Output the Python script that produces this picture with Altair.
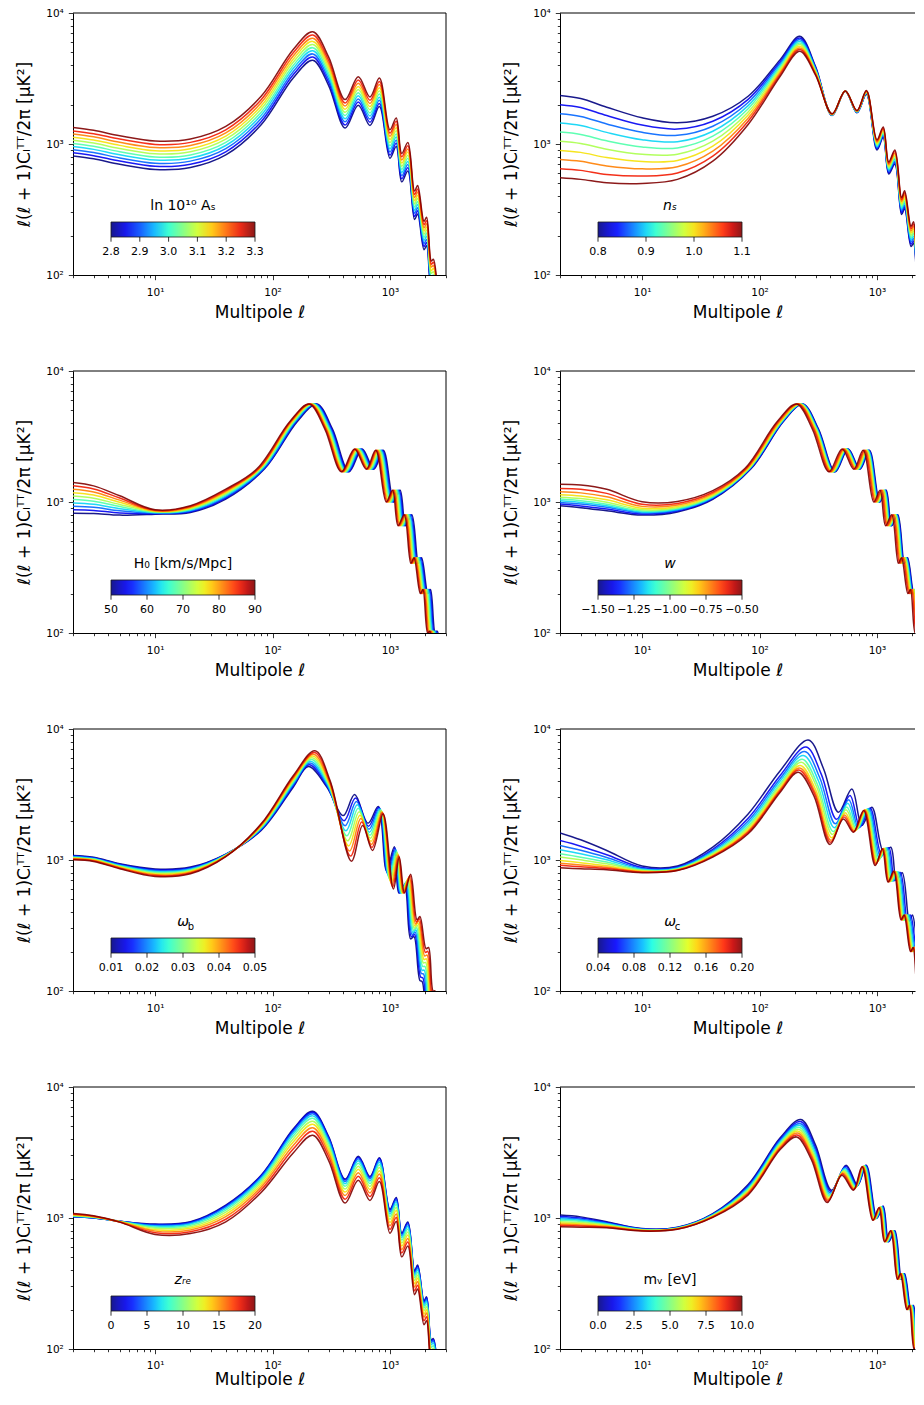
import altair as alt
import pandas as pd

FONT = "DejaVu Sans"

# ---------------- data ----------------
ANCHORS = [2, 3, 5, 10, 20, 40, 80, 150, 220, 300, 415, 537, 676, 813, 1000,
           1130, 1260, 1420, 1620, 1720, 1950, 2050, 2250, 2340, 2600]

AS_VALUES = [2.8, 2.856, 2.911, 2.967, 3.022, 3.078, 3.133, 3.189, 3.244, 3.3]
NS_VALUES = [0.8, 0.833, 0.867, 0.9, 0.933, 0.967, 1.0, 1.033, 1.067, 1.1]
H0_VALUES = [50.0, 54.4, 58.9, 63.3, 67.8, 72.2, 76.7, 81.1, 85.6, 90.0]
W_VALUES = [-1.5, -1.389, -1.278, -1.167, -1.056, -0.944, -0.833, -0.722, -0.611, -0.5]
OB_VALUES = [0.01, 0.0144, 0.0189, 0.0233, 0.0278, 0.0322, 0.0367, 0.0411, 0.0456, 0.05]
OC_VALUES = [0.04, 0.0578, 0.0756, 0.0933, 0.1111, 0.1289, 0.1467, 0.1644, 0.1822, 0.2]
ZRE_VALUES = [0.0, 2.22, 4.44, 6.67, 8.89, 11.11, 13.33, 15.56, 17.78, 20.0]
MNU_VALUES = [0.0, 1.11, 2.22, 3.33, 4.44, 5.56, 6.67, 7.78, 8.89, 10.0]

# panel 1: one row per curve (blue -> red), one value per anchor
AS_D_BY_CURVE = [
    [810, 771, 701, 639, 662, 826, 1402, 3194, 4362, 2804, 1324, 1979, 1387, 1932, 779, 958, 514, 623, 265, 292, 156, 167, 78, 80, 31],
    [856, 815, 741, 675, 700, 872, 1481, 3374, 4609, 2963, 1399, 2090, 1465, 2041, 823, 1012, 543, 658, 280, 309, 165, 177, 82, 85, 33],
    [905, 861, 783, 713, 740, 922, 1566, 3567, 4872, 3132, 1479, 2210, 1549, 2158, 870, 1070, 574, 696, 296, 326, 174, 187, 87, 90, 35],
    [956, 910, 827, 754, 781, 974, 1654, 3768, 5146, 3308, 1562, 2334, 1636, 2279, 919, 1130, 607, 735, 312, 345, 184, 198, 92, 95, 37],
    [1010, 961, 874, 796, 825, 1029, 1748, 3981, 5438, 3496, 1651, 2466, 1728, 2408, 971, 1194, 641, 777, 330, 364, 194, 209, 97, 100, 39],
    [1067, 1016, 923, 841, 872, 1088, 1847, 4207, 5746, 3694, 1744, 2606, 1826, 2544, 1026, 1262, 677, 821, 349, 385, 205, 221, 103, 106, 41],
    [1127, 1073, 976, 889, 921, 1149, 1951, 4444, 6070, 3902, 1843, 2753, 1930, 2688, 1084, 1333, 715, 867, 369, 407, 217, 233, 108, 112, 43],
    [1192, 1135, 1031, 940, 974, 1215, 2063, 4699, 6418, 4126, 1948, 2911, 2040, 2842, 1146, 1410, 756, 917, 390, 430, 229, 246, 115, 118, 46],
    [1259, 1199, 1090, 993, 1029, 1284, 2180, 4965, 6782, 4360, 2059, 3076, 2156, 3003, 1211, 1490, 799, 969, 412, 454, 242, 260, 121, 125, 48],
    [1335, 1271, 1156, 1053, 1091, 1361, 2311, 5264, 7190, 4622, 2183, 3261, 2286, 3184, 1284, 1579, 847, 1027, 437, 482, 257, 276, 128, 132, 51],
]

# other panels: one row per anchor; a single number is shared by all curves
NS_D = [
    [2344, 1996, 1700, 1448, 1233, 1050, 894, 761, 648, 552],
    [2223, 1899, 1622, 1385, 1183, 1010, 863, 737, 629, 537],
    [1910, 1648, 1422, 1227, 1058, 913, 788, 680, 586, 506],
    [1585, 1394, 1227, 1079, 949, 835, 735, 646, 569, 500],
    [1452, 1300, 1164, 1042, 933, 836, 748, 670, 600, 537],
    [1629, 1492, 1367, 1252, 1147, 1051, 962, 882, 807, 740],
    [2316, 2192, 2074, 1963, 1858, 1758, 1664, 1575, 1490, 1410],
    [4406, 4265, 4128, 3996, 3868, 3745, 3625, 3509, 3397, 3289],
    [6640, 6449, 6263, 6083, 5907, 5737, 5572, 5411, 5255, 5106],
    [3900, 3835, 3771, 3708, 3646, 3585, 3525, 3466, 3408, 3350],
    [1650, 1655, 1661, 1666, 1672, 1677, 1683, 1689, 1694, 1700],
    2540,
    [1730, 1738, 1745, 1753, 1761, 1768, 1776, 1784, 1792, 1800],
    [2400, 2417, 2435, 2452, 2470, 2487, 2505, 2523, 2541, 2560],
    [900, 918, 937, 956, 976, 996, 1016, 1037, 1058, 1080],
    [1120, 1143, 1167, 1191, 1216, 1241, 1267, 1294, 1321, 1350],
    [590, 604, 619, 633, 649, 664, 680, 696, 713, 730],
    [700, 720, 740, 761, 783, 805, 828, 851, 875, 900],
    [290, 300, 310, 320, 331, 342, 353, 365, 377, 390],
    [320, 332, 343, 356, 368, 382, 395, 410, 424, 440],
    [165, 172, 179, 186, 193, 201, 209, 217, 226, 235],
    [175, 182, 190, 198, 207, 216, 225, 235, 245, 255],
    [80, 84, 88, 92, 96, 100, 105, 110, 115, 120],
    [82, 86, 90, 94, 99, 104, 109, 114, 119, 125],
    [30, 32, 34, 35, 37, 40, 42, 44, 47, 50],
]

H0_ELL = [2, 3, 5, 10, 20, 40,
          [86, 85, 84, 82, 81, 79, 78, 77, 76, 74],
          [162, 159, 157, 154, 152, 149, 147, 144, 142, 140],
          [238, 234, 230, 226, 222, 218, 215, 211, 208, 205],
          [324, 319, 313, 308, 303, 298, 293, 288, 284, 279],
          [448, 441, 433, 426, 419, 412, 405, 399, 392, 386],
          [580, 570, 561, 552, 542, 533, 525, 516, 507, 499],
          [730, 718, 706, 694, 683, 671, 660, 650, 639, 629],
          [878, 863, 849, 835, 821, 807, 794, 781, 768, 756],
          [1080, 1062, 1044, 1027, 1010, 993, 977, 961, 945, 930],
          [1220, 1200, 1180, 1161, 1141, 1122, 1104, 1086, 1068, 1051],
          [1361, 1338, 1315, 1294, 1273, 1251, 1231, 1211, 1191, 1172],
          [1534, 1508, 1482, 1458, 1434, 1410, 1387, 1365, 1342, 1321],
          [1750, 1720, 1691, 1664, 1636, 1609, 1583, 1557, 1531, 1507],
          [1858, 1827, 1796, 1766, 1737, 1708, 1680, 1653, 1625, 1600],
          [2106, 2071, 2036, 2003, 1970, 1936, 1905, 1874, 1843, 1814],
          [2214, 2177, 2140, 2105, 2071, 2036, 2003, 1970, 1937, 1907],
          [2430, 2390, 2349, 2311, 2273, 2234, 2198, 2162, 2126, 2093],
          [2527, 2485, 2443, 2403, 2363, 2324, 2286, 2249, 2211, 2176],
          [2808, 2761, 2714, 2670, 2626, 2582, 2540, 2498, 2457, 2418]]
H0_D = [[822, 873, 927, 984, 1045, 1109, 1178, 1250, 1328, 1410],
        [818, 863, 911, 961, 1014, 1070, 1129, 1192, 1258, 1328],
        [794, 825, 856, 889, 923, 958, 995, 1033, 1073, 1115],
        [808, 815, 822, 829, 836, 843, 850, 857, 864, 871],
        [832, 843, 854, 866, 877, 889, 901, 913, 925, 937],
        [1052, 1073, 1094, 1115, 1137, 1159, 1182, 1205, 1229, 1253],
        1800, 4100, 5600, 3600, 1700, 2540, 1780, 2480, 1000, 1230,
        660, 800, 340, 375, 200, 215, 100, 103, 40]

W_ELL = [2, 3, 5, 10, 20, 40,
         [85, 84, 83, 82, 82, 81, 80, 78, 77, 75],
         [159, 158, 156, 155, 153, 152, 150, 147, 144, 141],
         [233, 231, 229, 227, 225, 222, 219, 216, 212, 207],
         [318, 315, 312, 309, 306, 303, 299, 294, 289, 282],
         [440, 436, 432, 428, 424, 419, 414, 407, 399, 390],
         [569, 564, 558, 554, 548, 542, 535, 526, 517, 505],
         [717, 710, 703, 697, 690, 683, 674, 662, 650, 635],
         [862, 854, 846, 838, 830, 821, 811, 797, 782, 764],
         [1060, 1050, 1040, 1031, 1021, 1010, 997, 980, 962, 940],
         [1198, 1187, 1175, 1165, 1154, 1141, 1127, 1107, 1087, 1062],
         [1336, 1323, 1310, 1299, 1286, 1273, 1256, 1235, 1212, 1184],
         [1505, 1491, 1477, 1464, 1450, 1434, 1416, 1392, 1366, 1335],
         [1717, 1701, 1685, 1670, 1654, 1636, 1615, 1588, 1558, 1523],
         [1823, 1806, 1789, 1773, 1756, 1737, 1715, 1686, 1655, 1617],
         [2067, 2048, 2028, 2010, 1991, 1970, 1944, 1911, 1876, 1833],
         [2173, 2153, 2132, 2114, 2093, 2071, 2044, 2009, 1972, 1927],
         [2385, 2363, 2340, 2320, 2297, 2273, 2243, 2205, 2165, 2115],
         [2480, 2457, 2434, 2413, 2389, 2363, 2333, 2293, 2251, 2200],
         [2756, 2730, 2704, 2681, 2655, 2626, 2592, 2548, 2501, 2444]]
W_D = [[936, 964, 993, 1021, 1052, 1089, 1135, 1197, 1268, 1368],
       [905, 934, 965, 992, 1024, 1062, 1110, 1174, 1251, 1350],
       [857, 883, 911, 935, 963, 997, 1039, 1095, 1164, 1250],
       [795, 810, 825, 839, 855, 873, 896, 926, 961, 1005],
       [840, 853, 865, 876, 890, 904, 923, 947, 975, 1010],
       [1050, 1063, 1075, 1087, 1100, 1115, 1134, 1158, 1186, 1220],
       1800, 4100, 5600, 3600, 1700, 2540, 1780, 2480, 1000, 1230,
       660, 800, 340, 375, 200, 215, 100, 103, 40]

OB_ELL = [2, 3, 5, 10, 20, 40, 80, 150,
          [202, 205, 208, 211, 214, 217, 220, 223, 227, 230],
          [290, 292, 294, 296, 299, 301, 303, 305, 308, 310],
          [400, 407, 415, 422, 430, 437, 445, 453, 462, 470],
          [500, 509, 518, 527, 536, 546, 555, 565, 575, 585],
          [650, 656, 663, 669, 676, 682, 689, 696, 703, 710],
          [795, 804, 812, 821, 830, 839, 848, 857, 866, 875],
          [935, 949, 963, 978, 992, 1007, 1023, 1038, 1054, 1070],
          [1090, 1102, 1114, 1126, 1138, 1150, 1163, 1175, 1188, 1200],
          [1190, 1205, 1220, 1235, 1250, 1265, 1281, 1297, 1313, 1330],
          [1330, 1348, 1366, 1384, 1402, 1421, 1440, 1460, 1480, 1500],
          [1500, 1521, 1542, 1564, 1586, 1608, 1630, 1653, 1676, 1700],
          [1600, 1621, 1642, 1664, 1686, 1708, 1730, 1753, 1776, 1800],
          [1800, 1824, 1849, 1874, 1899, 1924, 1950, 1976, 2003, 2030],
          [1880, 1906, 1933, 1960, 1987, 2014, 2042, 2071, 2100, 2130],
          [2050, 2079, 2109, 2139, 2170, 2201, 2232, 2264, 2297, 2330],
          [2150, 2178, 2207, 2236, 2266, 2296, 2326, 2357, 2388, 2420],
          [2400, 2426, 2453, 2480, 2507, 2534, 2562, 2591, 2620, 2650]]
OB_D = [[1083, 1074, 1065, 1056, 1047, 1038, 1029, 1020, 1012, 1003],
        [1050, 1041, 1033, 1024, 1016, 1008, 999, 991, 983, 975],
        [936, 927, 918, 909, 900, 891, 883, 874, 866, 857],
        [855, 843, 830, 818, 806, 794, 783, 771, 760, 749],
        [883, 872, 860, 849, 838, 827, 816, 806, 795, 785],
        [1110, 1104, 1099, 1093, 1088, 1082, 1077, 1071, 1066, 1060],
        [1680, 1702, 1724, 1746, 1769, 1792, 1815, 1839, 1863, 1888],
        [3593, 3675, 3758, 3844, 3931, 4021, 4112, 4206, 4302, 4400],
        [5165, 5328, 5496, 5670, 5849, 6034, 6224, 6421, 6624, 6834],
        [3600, 3642, 3685, 3729, 3773, 3817, 3862, 3907, 3953, 4000],
        [2183, 1997, 1827, 1672, 1530, 1400, 1281, 1172, 1071, 980],
        [3160, 2975, 2800, 2636, 2481, 2336, 2199, 2070, 1948, 1833],
        [1910, 1811, 1717, 1628, 1544, 1464, 1388, 1316, 1248, 1184],
        [2559, 2523, 2487, 2452, 2417, 2383, 2349, 2316, 2282, 2249],
        [830, 801, 773, 745, 719, 694, 669, 645, 622, 600],
        [1260, 1235, 1210, 1186, 1162, 1139, 1116, 1094, 1072, 1050],
        560,
        [640, 654, 669, 683, 698, 714, 730, 746, 763, 780],
        [250, 260, 270, 280, 290, 301, 313, 325, 337, 350],
        [260, 270, 281, 292, 304, 316, 329, 342, 356, 370],
        [120, 128, 136, 144, 154, 164, 174, 185, 197, 210],
        [118, 126, 135, 144, 154, 165, 176, 188, 201, 215],
        [50, 54, 58, 63, 68, 74, 80, 86, 93, 100],
        [45, 49, 54, 59, 64, 70, 77, 84, 92, 100],
        [15, 17, 19, 21, 23, 26, 29, 32, 36, 40]]

OC_ELL = [2, 3, 5, 10, 20, 40, 80, 150,
          [260, 249, 242, 236, 231, 227, 222, 219, 216, 213],
          [350, 336, 327, 319, 312, 307, 301, 297, 294, 290],
          [470, 453, 442, 433, 425, 418, 412, 406, 402, 398],
          [611, 589, 575, 564, 553, 545, 536, 529, 523, 518],
          [743, 716, 699, 686, 672, 663, 652, 643, 636, 630],
          [905, 874, 854, 838, 822, 810, 798, 788, 780, 770],
          [1139, 1098, 1073, 1051, 1030, 1015, 998, 985, 975, 965],
          [1310, 1263, 1234, 1210, 1186, 1168, 1149, 1134, 1123, 1110],
          [1463, 1411, 1379, 1351, 1325, 1305, 1284, 1267, 1255, 1240],
          [1640, 1582, 1545, 1515, 1485, 1463, 1439, 1420, 1406, 1390],
          [1888, 1820, 1779, 1744, 1709, 1684, 1657, 1635, 1619, 1600],
          [2006, 1934, 1890, 1853, 1816, 1789, 1760, 1737, 1720, 1700],
          [2277, 2196, 2146, 2104, 2062, 2032, 1998, 1972, 1953, 1930],
          [2395, 2310, 2257, 2212, 2169, 2137, 2102, 2074, 2054, 2030],
          [2631, 2537, 2479, 2430, 2383, 2347, 2309, 2278, 2256, 2230],
          [2738, 2640, 2579, 2529, 2479, 2442, 2402, 2370, 2347, 2320],
          [3068, 2958, 2890, 2834, 2778, 2737, 2692, 2656, 2630, 2600]]
OC_D = [[1611, 1407, 1291, 1200, 1115, 1055, 992, 945, 910, 872],
        [1426, 1275, 1187, 1117, 1051, 1003, 954, 915, 888, 857],
        [1183, 1098, 1046, 1004, 964, 935, 903, 879, 861, 841],
        [900, 877, 863, 851, 839, 830, 820, 813, 807, 800],
        [900, 884, 874, 866, 857, 851, 844, 839, 834, 830],
        [1254, 1207, 1177, 1153, 1128, 1111, 1091, 1076, 1065, 1052],
        [2248, 2082, 1982, 1901, 1823, 1767, 1706, 1659, 1625, 1585],
        [4809, 4423, 4195, 4007, 3828, 3699, 3561, 3454, 3377, 3289],
        [8243, 7277, 6722, 6281, 5866, 5574, 5267, 5032, 4864, 4675],
        [5000, 4502, 4209, 3976, 3753, 3596, 3429, 3300, 3206, 3100],
        [2316, 2045, 1888, 1764, 1648, 1566, 1479, 1412, 1365, 1313],
        [3490, 3108, 2886, 2706, 2541, 2423, 2298, 2203, 2134, 2060],
        [1833, 1786, 1757, 1732, 1708, 1690, 1670, 1654, 1643, 1630],
        [2530, 2497, 2477, 2460, 2443, 2430, 2416, 2405, 2397, 2388],
        [1150, 1092, 1057, 1027, 998, 977, 958, 940, 927, 908],
        [1250, 1242, 1237, 1233, 1230, 1227, 1224, 1222, 1219, 1216],
        [700, 696, 693, 690, 688, 686, 684, 683, 681, 680],
        [800, 804, 807, 809, 812, 814, 816, 817, 819, 820],
        [340, 342, 344, 345, 346, 347, 348, 349, 349, 350],
        380, 200,
        [220, 219, 219, 218, 217, 217, 216, 216, 215, 215],
        100, 103, 40]

ZRE_D = [[1021, 1023, 1027, 1033, 1039, 1046, 1054, 1063, 1072, 1083],
         [1000, 1001, 1004, 1008, 1012, 1016, 1021, 1027, 1033, 1040],
         [945, 945, 944, 942, 941, 939, 937, 935, 932, 930],
         [898, 892, 881, 867, 851, 834, 814, 794, 772, 749],
         [936, 929, 916, 899, 879, 857, 834, 810, 785, 760],
         [1254, 1240, 1216, 1185, 1150, 1110, 1067, 1024, 978, 935],
         [2123, 2099, 2056, 2002, 1937, 1869, 1797, 1721, 1643, 1567],
         [4777, 4703, 4572, 4408, 4219, 4014, 3801, 3579, 3358, 3137],
         [6524, 6423, 6244, 6020, 5762, 5482, 5191, 4889, 4586, 4284],
         [4194, 4129, 4014, 3870, 3704, 3524, 3337, 3143, 2948, 2754],
         [1981, 1950, 1896, 1828, 1749, 1664, 1576, 1484, 1392, 1301],
         [2959, 2913, 2832, 2731, 2614, 2487, 2355, 2217, 2080, 1943],
         [2074, 2042, 1985, 1914, 1832, 1743, 1650, 1554, 1458, 1362],
         [2889, 2845, 2765, 2666, 2552, 2428, 2299, 2165, 2031, 1897],
         [1165, 1147, 1115, 1075, 1029, 979, 927, 873, 819, 765],
         [1433, 1411, 1371, 1322, 1266, 1204, 1140, 1074, 1007, 941],
         [769, 757, 736, 710, 679, 646, 612, 576, 541, 505],
         [932, 918, 892, 860, 823, 783, 742, 698, 655, 612],
         [396, 390, 379, 366, 350, 333, 315, 297, 278, 260],
         [437, 430, 418, 403, 386, 367, 348, 327, 307, 287],
         [233, 229, 223, 215, 206, 196, 185, 175, 164, 153],
         [250, 247, 240, 231, 221, 210, 199, 188, 176, 164],
         [117, 115, 112, 108, 103, 98, 93, 87, 82, 77],
         [120, 118, 115, 111, 106, 101, 95, 90, 84, 79],
         [47, 46, 45, 43, 41, 39, 37, 35, 33, 31]]

MNU_ELL = [2, 3, 5, 10, 20, 40, 80, 150,
           [225, 223, 221, 219, 217, 215, 213, 211, 209, 207],
           [300, 297, 295, 292, 289, 286, 284, 281, 279, 276],
           [410, 406, 402, 399, 395, 391, 388, 384, 381, 377],
           [546, 541, 536, 531, 526, 521, 516, 512, 507, 502],
           [685, 679, 672, 666, 660, 654, 648, 642, 636, 630],
           [811, 804, 796, 789, 781, 774, 767, 760, 753, 746],
           [1000, 991, 982, 973, 964, 955, 946, 937, 929, 920],
           [1130, 1120, 1109, 1099, 1089, 1079, 1069, 1059, 1049, 1040],
           [1260, 1248, 1237, 1225, 1214, 1203, 1192, 1181, 1170, 1159],
           [1420, 1407, 1394, 1381, 1368, 1356, 1343, 1331, 1319, 1306],
           [1620, 1605, 1590, 1576, 1561, 1547, 1532, 1518, 1504, 1490],
           [1720, 1704, 1689, 1673, 1657, 1642, 1627, 1612, 1597, 1582],
           [1950, 1932, 1914, 1897, 1879, 1862, 1845, 1828, 1811, 1794],
           [2050, 2031, 2012, 1994, 1975, 1957, 1939, 1921, 1904, 1886],
           [2250, 2229, 2209, 2188, 2168, 2148, 2128, 2109, 2089, 2070],
           [2340, 2318, 2297, 2276, 2255, 2234, 2213, 2193, 2173, 2153],
           [2600, 2576, 2552, 2529, 2505, 2482, 2459, 2437, 2414, 2392]]
MNU_D = [[1052, 1028, 1005, 982, 960, 938, 917, 896, 877, 857],
         [1020, 1000, 980, 960, 941, 922, 904, 886, 867, 850],
         [936, 925, 914, 903, 893, 882, 872, 861, 851, 841],
         [830, 826, 822, 818, 814, 811, 807, 803, 799, 795],
         [850, 847, 843, 840, 836, 833, 830, 826, 823, 820],
         [1080, 1072, 1064, 1056, 1048, 1041, 1033, 1025, 1018, 1010],
         [1800, 1764, 1729, 1694, 1661, 1627, 1595, 1563, 1532, 1500],
         [4100, 4006, 3915, 3826, 3739, 3653, 3570, 3488, 3408, 3330],
         [5640, 5452, 5271, 5095, 4926, 4761, 4603, 4450, 4301, 4158],
         [3600, 3501, 3404, 3310, 3219, 3130, 3044, 2960, 2878, 2800],
         [1631, 1592, 1554, 1517, 1481, 1446, 1411, 1378, 1345, 1313],
         [2530, 2481, 2433, 2386, 2340, 2295, 2251, 2207, 2164, 2122],
         [1780, 1763, 1746, 1729, 1712, 1696, 1680, 1663, 1647, 1631],
         [2530, 2522, 2515, 2507, 2500, 2492, 2484, 2477, 2470, 2462],
         [1000, 995, 991, 986, 982, 978, 973, 969, 964, 960],
         [1230, 1227, 1223, 1220, 1217, 1213, 1210, 1207, 1203, 1200],
         660, 800, 340, 375, 200, 215, 100, 103, 40]

# colorbar tick values
AS_TICKS = [2.8, 2.9, 3.0, 3.1, 3.2, 3.3]
NS_TICKS = [0.8, 0.9, 1.0, 1.1]
H0_TICKS = [50, 60, 70, 80, 90]
W_TICKS = [-1.5, -1.25, -1.0, -0.75, -0.5]
OB_TICKS = [0.01, 0.02, 0.03, 0.04, 0.05]
OC_TICKS = [0.04, 0.08, 0.12, 0.16, 0.20]
ZRE_TICKS = [0, 5, 10, 15, 20]
MNU_TICKS = [0.0, 2.5, 5.0, 7.5, 10.0]

X_TICKS = [2, 3, 4, 5, 6, 7, 8, 9, 10, 20, 30, 40, 50, 60, 70, 80, 90,
           100, 200, 300, 400, 500, 600, 700, 800, 900, 1000, 2000, 3000]
Y_TICKS = [100, 200, 300, 400, 500, 600, 700, 800, 900,
           1000, 2000, 3000, 4000, 5000, 6000, 7000, 8000, 9000, 10000]

# matplotlib "jet" colour stops
JET = ["#000080", "#0000C8", "#0000FF", "#0040FF", "#0080FF", "#00BFFF",
       "#15FFE2", "#48FFAF", "#7BFF7B", "#AFFF48", "#E2FF15", "#FFD200",
       "#FF9700", "#FF5C00", "#FF2100", "#C80000", "#800000"]

# ---------------- layout constants ----------------
W, H = 373, 262
X_MAX = 3000
# the right-hand column runs past the picture's edge in the reference:
# it is cut where the page ends (same pixels per decade as the left column)
W_RIGHT, X_MAX_RIGHT = 355, 2108
LEG_X, LEG_Y = 38, 186
GRAD_LEN, GRAD_T = 144, 15
TITLE_PAD = 9
CB_BOTTOM = LEG_Y + 14 + TITLE_PAD + GRAD_T


def build(values, ell_rows, d_rows):
    recs = []
    for i, v in enumerate(values):
        for e, d in zip(ell_rows, d_rows):
            recs.append({
                "curve": i,
                "p": v,
                "ell": e[i] if isinstance(e, list) else e,
                "D": d[i] if isinstance(d, list) else d,
            })
    return pd.DataFrame(recs)


MAJX = "datum.value == 10 || datum.value == 100 || datum.value == 1000"
MAJY = "datum.value == 100 || datum.value == 1000 || datum.value == 10000"


def x_axis(xmax, last_row):
    return alt.Axis(
        values=[v for v in X_TICKS if v <= xmax],
        labelExpr="datum.value == 10 ? '10¹' : datum.value == 100 ? '10²' : datum.value == 1000 ? '10³' : ''",
        tickSize={"condition": {"test": MAJX, "value": 4.7}, "value": 2.7},
        tickColor="black", tickWidth=0.8, domainColor="black", domainWidth=1,
        labelFont=FONT, labelFontSize=10.5, labelColor="black",
        labelPadding=7 if last_row else 8,
        labelOverlap=False, labelFlush=False, grid=False,
        title="Multipole ℓ", titleFont=FONT, titleFontSize=17, titleFontWeight="normal",
        titleColor="black", titlePadding=0 if last_row else 6.5,
    )


Y_AXIS = alt.Axis(
    values=Y_TICKS,
    labelExpr="datum.value == 100 ? '10²' : datum.value == 1000 ? '10³' : datum.value == 10000 ? '10⁴' : ''",
    tickSize={"condition": {"test": MAJY, "value": 4.7}, "value": 2.7},
    tickColor="black", tickWidth=0.8, domainColor="black", domainWidth=1,
    labelFont=FONT, labelFontSize=10.5, labelColor="black", labelPadding=5,
    labelOverlap=False, labelFlush=False, grid=False,
    title="ℓ(ℓ + 1)Cₗᵀᵀ/2π [μK²]", titleFont=FONT, titleFontSize=17,
    titleFontWeight="normal", titleColor="black", titlePadding=12,
)

YS = alt.Scale(type="log", domain=[100, 10000], nice=False)


def fmt_tick(v, fmt):
    return format(v, fmt).replace("-", "\u2212")


ONE = pd.DataFrame({"o": [0]})


def panel(df, vmin, vmax, ticks, title, fmt, italic=False, sub=None, right=False,
          last_row=False):
    width = W_RIGHT if right else W
    xmax = X_MAX_RIGHT if right else X_MAX
    dom = [vmin + (vmax - vmin) * k / 16 for k in range(17)]
    legend = alt.Legend(
        orient="none", legendX=LEG_X, legendY=LEG_Y, direction="horizontal",
        gradientLength=GRAD_LEN, gradientThickness=GRAD_T,
        gradientStrokeColor="black", gradientStrokeWidth=0.8,
        title=title, titleFont=FONT, titleFontSize=14, titleFontWeight="normal",
        titleFontStyle="italic" if italic else "normal",
        titleColor="black", titleAnchor="middle", titlePadding=TITLE_PAD,
        labelExpr="''", labelFontSize=1, labelOffset=0,
        values=[vmin, vmax], padding=0,
    )
    lines = alt.Chart(df).mark_line(
        clip=True, strokeWidth=1.5, opacity=0.9, interpolate="catmull-rom"
    ).encode(
        x=alt.X("ell:Q", scale=alt.Scale(type="log", domain=[2, xmax], nice=False),
                axis=x_axis(xmax, last_row)),
        y=alt.Y("D:Q", scale=YS, axis=Y_AXIS),
        color=alt.Color("p:Q", scale=alt.Scale(domain=dom, range=JET, interpolate="rgb"),
                        legend=legend),
        detail="curve:N",
    )
    tdf = pd.DataFrame({"t": ticks, "lab": [fmt_tick(t, fmt) for t in ticks]})
    cb_x = alt.X("t:Q", scale=alt.Scale(domain=[vmin, vmax], range=[LEG_X, LEG_X + GRAD_LEN]),
                 axis=None)
    cb_ticks = alt.Chart(tdf).mark_rule(color="black", strokeWidth=0.8).encode(
        x=cb_x, y=alt.value(CB_BOTTOM), y2=alt.value(CB_BOTTOM + 4.7),
    )
    cb_labels = alt.Chart(tdf).mark_text(
        align="center", baseline="top", fontSize=11, font=FONT, color="black"
    ).encode(x=cb_x, y=alt.value(CB_BOTTOM + 8.5), text="lab:N")
    top_spine = alt.Chart(ONE).mark_rule(color="black", strokeWidth=1).encode(
        x=alt.value(0), x2=alt.value(width), y=alt.value(0))
    layers = [lines, cb_ticks, cb_labels, top_spine]
    if not right:
        layers.append(alt.Chart(ONE).mark_rule(color="black", strokeWidth=1).encode(
            x=alt.value(width), y=alt.value(0), y2=alt.value(H)))
    if sub:
        txt = alt.Chart(pd.DataFrame({"s": [sub]})).mark_text(
            align="left", baseline="alphabetic", fontSize=10, font=FONT, color="black"
        ).encode(x=alt.value(LEG_X + GRAD_LEN / 2 + 4.8), y=alt.value(LEG_Y + 14.5),
                 text="s:N")
        layers.append(txt)
    return alt.layer(*layers).resolve_scale(x="independent").properties(width=width, height=H)


p1 = panel(build(AS_VALUES, ANCHORS, [list(c) for c in zip(*AS_D_BY_CURVE)]),
           2.8, 3.3, AS_TICKS, "ln 10¹⁰ Aₛ", ".1f")
p2 = panel(build(NS_VALUES, ANCHORS, NS_D), 0.8, 1.1, NS_TICKS, "nₛ", ".1f",
           italic=True, right=True)
p3 = panel(build(H0_VALUES, H0_ELL, H0_D), 50, 90, H0_TICKS, "H₀ [km/s/Mpc]", "d")
p4 = panel(build(W_VALUES, W_ELL, W_D), -1.5, -0.5, W_TICKS, "w", ".2f",
           italic=True, right=True)
p5 = panel(build(OB_VALUES, OB_ELL, OB_D), 0.01, 0.05, OB_TICKS, "ω", ".2f",
           italic=True, sub="b")
p6 = panel(build(OC_VALUES, OC_ELL, OC_D), 0.04, 0.20, OC_TICKS, "ω", ".2f",
           italic=True, sub="c", right=True)
p7 = panel(build(ZRE_VALUES, ANCHORS, ZRE_D), 0, 20, ZRE_TICKS, "zᵣₑ", "d",
           italic=True, last_row=True)
p8 = panel(build(MNU_VALUES, MNU_ELL, MNU_D), 0, 10, MNU_TICKS, "mᵥ [eV]", ".1f",
           right=True, last_row=True)

HS, VS = 55, 45
rows = [
    alt.hconcat(a, b, spacing=HS).resolve_scale(color="independent", x="independent", y="independent")
    for a, b in [(p1, p2), (p3, p4), (p5, p6), (p7, p8)]
]
chart = alt.vconcat(*rows, spacing=VS).resolve_scale(
    color="independent", x="independent", y="independent"
).properties(
    padding={"left": 7, "top": 0, "right": 0, "bottom": 0}, background="white"
).configure(font=FONT).configure_view(strokeWidth=0)

chart.save("out.html", embed_options={"renderer": "svg", "actions": False})
